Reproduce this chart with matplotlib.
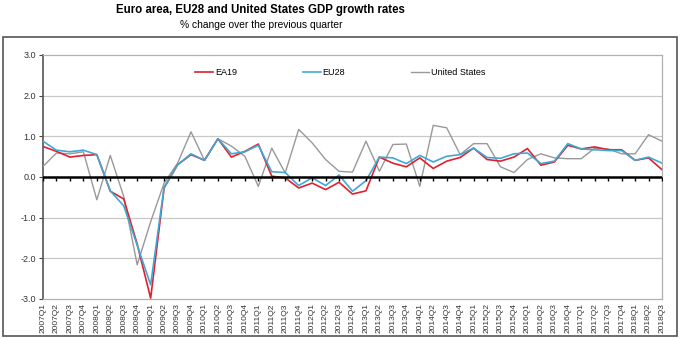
import numpy as np
import matplotlib.pyplot as plt
from matplotlib.patches import Rectangle

plt.rcParams['font.family'] = ['Liberation Sans', 'DejaVu Sans']

# quarters 2007Q1 .. 2018Q3
quarters = [f'{y}Q{q}' for y in range(2007, 2019) for q in range(1, 5)][:47]

ea19 = [0.75, 0.63, 0.49, 0.53, 0.55, -0.35, -0.54, -1.65, -2.98, -0.27,
        0.30, 0.55, 0.41, 0.94, 0.49, 0.63, 0.81, 0.02, -0.02, -0.27,
        -0.15, -0.31, -0.13, -0.42, -0.34, 0.49, 0.34, 0.25, 0.47, 0.21,
        0.39, 0.48, 0.71, 0.43, 0.39, 0.49, 0.70, 0.29, 0.37, 0.78,
        0.69, 0.74, 0.67, 0.67, 0.41, 0.47, 0.18]
eu28 = [0.88, 0.66, 0.62, 0.66, 0.55, -0.34, -0.71, -1.68, -2.65, -0.25,
        0.30, 0.57, 0.41, 0.94, 0.57, 0.62, 0.78, 0.13, 0.11, -0.21,
        -0.02, -0.21, 0.05, -0.35, -0.09, 0.49, 0.47, 0.33, 0.53, 0.37,
        0.51, 0.55, 0.71, 0.48, 0.46, 0.57, 0.59, 0.33, 0.39, 0.82,
        0.69, 0.67, 0.65, 0.65, 0.41, 0.49, 0.34]
usa = [0.26, 0.59, 0.57, 0.62, -0.56, 0.53, -0.48, -2.16, -1.10, -0.15,
       0.34, 1.11, 0.41, 0.94, 0.76, 0.51, -0.23, 0.71, 0.10, 1.17,
       0.84, 0.43, 0.14, 0.12, 0.88, 0.14, 0.80, 0.81, -0.23, 1.27,
       1.21, 0.55, 0.82, 0.82, 0.25, 0.11, 0.43, 0.57, 0.47, 0.45,
       0.45, 0.71, 0.69, 0.57, 0.57, 1.04, 0.88]

x = np.arange(len(quarters))

fig = plt.figure(figsize=(6.8, 3.39), dpi=100)
ax = fig.add_axes([43/680, 1-299/339, 619/680, 244/339])

# outer frame
fig.patches.append(Rectangle((3/680, 1-336/339), 674/680, 299/339,
                             transform=fig.transFigure, fill=False,
                             edgecolor='#555555', lw=1.2))

fig.text(260/680, 1-10/339, 'Euro area, EU28 and United States GDP growth rates',
         ha='center', va='center', fontsize=8.3, fontweight='bold')
fig.text(261/680, 1-25/339, '% change over the previous quarter',
         ha='center', va='center', fontsize=7.4)

for v in [-2, -1, 1, 2]:
    ax.axhline(v, color='#c8c8c8', lw=0.9, zorder=1)

ax.plot(x, usa, color='#999999', lw=1.0, label='United States', zorder=3)
ax.plot(x, eu28, color='#3fa9d6', lw=1.2, label='EU28', zorder=4)
ax.plot(x, ea19, color='#e0202f', lw=1.2, label='EA19', zorder=3.5)

# zero line with quarter ticks
ax.axhline(0, color='black', lw=1.8, zorder=5)
ax.plot(x, np.zeros(len(x)), ls='', marker=3, color='black',
        markersize=3, markeredgewidth=1, zorder=5)

ax.set_xlim(0, len(x) - 1)
ax.set_ylim(-3, 3)
ax.set_yticks([-3, -2, -1, 0, 1, 2, 3])
ax.set_yticklabels([f'{v:.1f}' for v in [-3, -2, -1, 0, 1, 2, 3]])
ax.set_xticks(x)
ax.set_xticklabels(quarters, rotation=90, fontsize=6.0, color='#333333')
ax.tick_params(axis='x', length=0, pad=3)
ax.tick_params(axis='y', length=3, width=0.8, color='#444444', labelsize=6.5,
               labelcolor='#333333', pad=2)

for s in ['top', 'right', 'bottom']:
    ax.spines[s].set_color('#b0b0b0')
    ax.spines[s].set_linewidth(0.9)
ax.spines['left'].set_color('#555555')
ax.spines['left'].set_linewidth(1.2)

h, l = ax.get_legend_handles_labels()
order = [2, 1, 0]
ax.legend([h[i] for i in order], [l[i] for i in order], ncol=3,
          loc='center', bbox_to_anchor=(0.48, 0.927), frameon=False,
          fontsize=6.5, handlelength=2.0, handletextpad=0.2, columnspacing=7.3)

fig.savefig('out.png', dpi=100)
